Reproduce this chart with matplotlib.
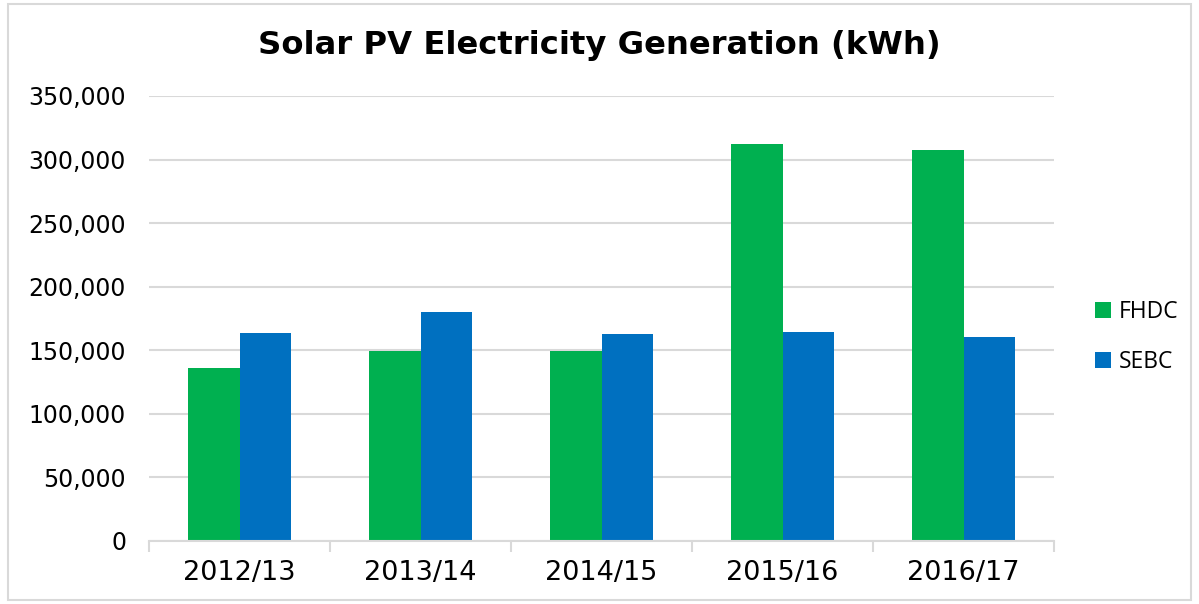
import matplotlib
matplotlib.use("Agg")
import matplotlib.pyplot as plt
from matplotlib.patches import Patch, Rectangle
from matplotlib.ticker import FuncFormatter, MultipleLocator, FixedLocator
import numpy as np

categories = ["2012/13", "2013/14", "2014/15", "2015/16", "2016/17"]
fhdc = [136000, 149400, 149600, 312000, 307300]
sebc = [163800, 180100, 162800, 164300, 160400]
series_names = ["FHDC", "SEBC"]
colors = ["#00B050", "#0070C0"]

fig = plt.figure(figsize=(11.99, 6.04), dpi=100)
ax = fig.add_axes([149/1199, 63/604, (1054-149)/1199, (541-96)/604])

x = np.arange(len(categories))
w = 0.285
ax.bar(x - w/2, fhdc, w, color=colors[0], zorder=3)
ax.bar(x + w/2, sebc, w, color=colors[1], zorder=3)

ax.set_xlim(-0.5, len(categories) - 0.5)
ax.set_ylim(0, 350000)
ax.yaxis.set_major_locator(MultipleLocator(50000))
ax.yaxis.set_major_formatter(FuncFormatter(lambda v, p: f"{int(v):,}"))
ax.grid(axis="y", color="#D9D9D9", linewidth=1.5, zorder=0)
ax.set_axisbelow(True)

for s in ["top", "right", "left"]:
    ax.spines[s].set_visible(False)
ax.spines["bottom"].set_color("#D9D9D9")
ax.spines["bottom"].set_linewidth(1.5)
ax.spines["bottom"].set_zorder(4)

ax.set_xticks(x)
ax.set_xticklabels(categories)
ax.xaxis.set_minor_locator(FixedLocator(np.arange(-0.5, len(categories), 1.0)))
ax.tick_params(axis="x", which="major", length=0, pad=14, labelsize=19.5)
ax.tick_params(axis="x", which="minor", length=8, width=1.5, color="#D9D9D9")
ax.tick_params(axis="y", length=0, pad=16.5, labelsize=17)

fig.text(0.5, 0.925, "Solar PV Electricity Generation (kWh)", ha="center", va="center",
         fontsize=23.2, fontweight="bold")

handles = [Patch(facecolor=c, edgecolor="none") for c in colors]
leg = fig.legend(handles, series_names, loc="center left", bbox_to_anchor=(1074/1199, 1 - 337/604),
                 frameon=False, prop={"family": "Open Sans", "size": 16.5},
                 handlelength=0.7, handleheight=0.7, handletextpad=0.35, labelspacing=1.1)

fig.patches.append(Rectangle((8/1199, 4/604), (1191-8)/1199, (600-4)/604, transform=fig.transFigure,
                             fill=False, edgecolor="#D9D9D9", linewidth=1.5))

fig.savefig("out.png", dpi=100)
